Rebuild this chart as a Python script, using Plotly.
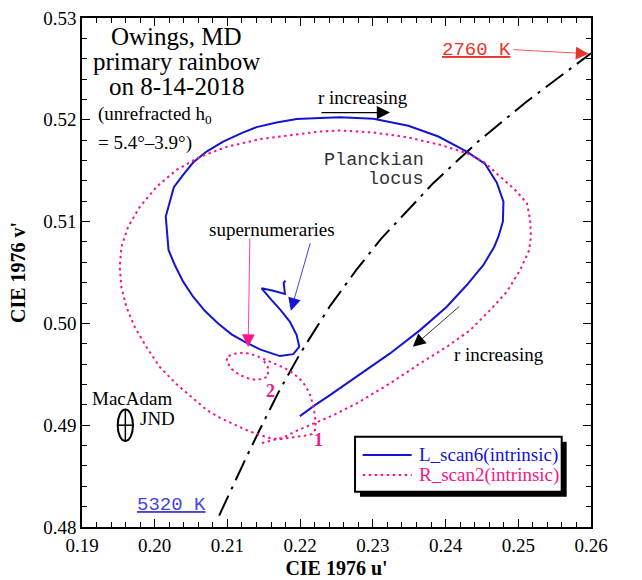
import plotly.graph_objects as go

# ---------------- data ----------------
blue_u = [0.21798, 0.21773, 0.21781, 0.21791, 0.21630, 0.21470, 0.21608, 0.21732, 0.21860, 0.21952,
          0.21988, 0.21905, 0.21722, 0.21447, 0.21240, 0.21057, 0.20872, 0.20689, 0.20528, 0.20391,
          0.20276, 0.20190, 0.20152, 0.20207, 0.20263, 0.20391, 0.20528, 0.20713, 0.20941, 0.21195,
          0.21401, 0.21677, 0.21952, 0.22273, 0.22548, 0.23007, 0.23488, 0.23901, 0.24292, 0.24544,
          0.24705, 0.24796, 0.24788, 0.24727, 0.24668, 0.24521, 0.24292, 0.24017, 0.23649, 0.23236,
          0.22778, 0.22410, 0.22204, 0.21997]
blue_v = [0.50421, 0.50397, 0.50357, 0.50289, 0.50321, 0.50345, 0.50229, 0.50131, 0.50016, 0.49885,
          0.49770, 0.49698, 0.49679, 0.49745, 0.49819, 0.49892, 0.50000, 0.50124, 0.50262, 0.50410,
          0.50574, 0.50721, 0.51049, 0.51181, 0.51338, 0.51459, 0.51580, 0.51688, 0.51786, 0.51869,
          0.51928, 0.51973, 0.52007, 0.52017, 0.52026, 0.52010, 0.51941, 0.51836, 0.51688, 0.51567,
          0.51383, 0.51196, 0.51000, 0.50852, 0.50751, 0.50574, 0.50377, 0.50164, 0.49934, 0.49705,
          0.49475, 0.49295, 0.49197, 0.49089]

pink_u = [0.21502, 0.21561, 0.21553, 0.21405, 0.21281, 0.21171, 0.21061, 0.20992, 0.20992, 0.21102,
          0.21217, 0.21309, 0.21405, 0.21557, 0.21677, 0.21791, 0.21905, 0.21997, 0.22066, 0.22121,
          0.22156, 0.22183, 0.22204, 0.22213, 0.22204, 0.22162, 0.22066, 0.21905, 0.21745, 0.21608,
          0.21423, 0.21240, 0.21057, 0.20872, 0.20717, 0.20528, 0.20300, 0.20070, 0.19887, 0.19726,
          0.19611, 0.19542, 0.19519, 0.19542, 0.19633, 0.19794, 0.20024, 0.20300, 0.20621, 0.20988,
          0.21447, 0.21905, 0.22273, 0.22548, 0.23007, 0.23466, 0.23925, 0.24292, 0.24521, 0.24751,
          0.24957, 0.25119, 0.25164, 0.25174, 0.25150, 0.25026, 0.24843, 0.24613, 0.24338, 0.24017,
          0.23649, 0.23236, 0.22778, 0.22456, 0.22180, 0.21970, 0.21767, 0.21608, 0.21447]
pink_v = [0.49630, 0.49561, 0.49475, 0.49443, 0.49462, 0.49492, 0.49551, 0.49620, 0.49674, 0.49703,
          0.49711, 0.49703, 0.49679, 0.49634, 0.49600, 0.49561, 0.49509, 0.49453, 0.49394, 0.49325,
          0.49256, 0.49177, 0.49098, 0.49020, 0.48951, 0.48912, 0.48897, 0.48882, 0.48865, 0.48869,
          0.48909, 0.48958, 0.49017, 0.49082, 0.49148, 0.49266, 0.49403, 0.49571, 0.49767, 0.49964,
          0.50161, 0.50357, 0.50554, 0.50751, 0.50947, 0.51144, 0.51341, 0.51508, 0.51636, 0.51734,
          0.51810, 0.51852, 0.51885, 0.51895, 0.51875, 0.51830, 0.51754, 0.51672, 0.51590, 0.51442,
          0.51311, 0.51181, 0.51016, 0.50852, 0.50721, 0.50525, 0.50311, 0.50131, 0.49934, 0.49770,
          0.49607, 0.49410, 0.49214, 0.49098, 0.49017, 0.48951, 0.48879, 0.48853, 0.48820]

planck_u = [0.20886, 0.21079, 0.21263, 0.21447, 0.21700, 0.21997, 0.22410, 0.22778, 0.23112, 0.23833,
            0.24452, 0.25100, 0.25715, 0.26000]
planck_v = [0.48112, 0.48410, 0.48690, 0.48960, 0.49320, 0.49700, 0.50170, 0.50530, 0.50830, 0.51380,
            0.51790, 0.52170, 0.52500, 0.52654]

series_names = ["L_scan6(intrinsic)", "R_scan2(intrinsic)"]

x_ticks = [0.19, 0.20, 0.21, 0.22, 0.23, 0.24, 0.25, 0.26]
x_ticklabels = ["0.19", "0.20", "0.21", "0.22", "0.23", "0.24", "0.25", "0.26"]
y_ticks = [0.48, 0.49, 0.50, 0.51, 0.52, 0.53]
y_ticklabels = ["0.48", "0.49", "0.50", "0.51", "0.52", "0.53"]

macadam_center = (0.19596, 0.49000)
macadam_semi = (0.00105, 0.00155)

# ---------------- styling ----------------
SERIF = "Liberation Serif, Times New Roman, serif"
MONO = "Liberation Mono, Courier New, monospace"
BLUE = "#1414d2"
PINK = "#f5168a"
PINK_DASH = "2.5px,3.5px"

fig = go.Figure()

fig.add_trace(go.Scatter(x=planck_u, y=planck_v, mode="lines", showlegend=False,
                         line=dict(color="black", width=2, dash="22px,7px,3px,7px"),
                         hoverinfo="skip"))
fig.add_trace(go.Scatter(x=blue_u, y=blue_v, mode="lines", name=series_names[0], showlegend=False,
                         line=dict(color=BLUE, width=2)))
fig.add_trace(go.Scatter(x=pink_u, y=pink_v, mode="lines", name=series_names[1], showlegend=False,
                         line=dict(color=PINK, width=2, dash=PINK_DASH)))

annotations = []


def note(text, u, v, size=19, color="black", family=SERIF, xanchor="center", ref="data"):
    r = ("x", "y") if ref == "data" else ("paper", "paper")
    annotations.append(dict(text=text, x=u, y=v, xref=r[0], yref=r[1], showarrow=False,
                            xanchor=xanchor, yanchor="middle",
                            font=dict(family=family, size=size, color=color)))


def arrow(head, tail, color="black", width=1.0, size=2.5):
    annotations.append(dict(text="", x=head[0], y=head[1], ax=tail[0], ay=tail[1],
                            xref="x", yref="y", axref="x", ayref="y", showarrow=True,
                            arrowhead=2, arrowsize=size, arrowwidth=width,
                            arrowcolor=color, standoff=0, startstandoff=0))


# title block
note("Owings, MD", 0.20297, 0.52819, size=25)
note("primary rainbow", 0.20297, 0.52573, size=25)
note("on 8-14-2018", 0.20297, 0.52327, size=25)
note("(unrefracted h<sub>0</sub>", 0.19198, 0.52049, size=19, xanchor="left")
note("= 5.4°–3.9°)", 0.19198, 0.51774, size=19, xanchor="left")

# r increasing labels
note("r increasing", 0.22858, 0.52216, size=19)
arrow((0.23236, 0.52071), (0.22273, 0.52071), width=1.2, size=2.2)
note("r increasing", 0.24740, 0.49695, size=19)
arrow((0.23549, 0.49770), (0.24210, 0.50180), width=0.8, size=3.2)

# Planckian locus label
note("Planckian", 0.23732, 0.51597, size=18.5, color="#333333", family=MONO, xanchor="right")
note("locus", 0.23732, 0.51410, size=18.5, color="#333333", family=MONO, xanchor="right")

# supernumeraries
note("supernumeraries", 0.21612, 0.50925, size=19)
arrow((0.21285, 0.49767), (0.21309, 0.50852), color=PINK, width=0.8, size=3.2)
arrow((0.21873, 0.50124), (0.22145, 0.50803), color=BLUE, width=0.8, size=3.2)

# loop numbers
note("<b>2</b>", 0.21595, 0.49337, size=18, color=PINK)
note("<b>1</b>", 0.22249, 0.48853, size=18, color=PINK)

# MacAdam
note("MacAdam", 0.19691, 0.49263, size=19)
note("JND", 0.20035, 0.49066, size=19)

# temperature labels
note("<u>5320 K</u>", 0.20235, 0.48213, size=19, color="#4444dd", family=MONO)
note("<u>2760 K</u>", 0.24430, 0.52688, size=19, color="#e8342c", family=MONO)
arrow((0.25967, 0.52649), (0.24912, 0.52690), color="#e8342c", width=0.8, size=3.2)

# legend (box with drop shadow, samples and labels) in paper coordinates
LEG_X0, LEG_X1, LEG_Y0, LEG_Y1 = 0.5364, 0.9424, 0.0694, 0.1774
SHADOW = (0.0098, 0.0098)
SAMPLE_X = (0.5515, 0.6477)
ROW_Y = (0.1415, 0.1022)
TEXT_X = 0.6576
note(series_names[0], TEXT_X, ROW_Y[0], size=19, color=BLUE, xanchor="left", ref="paper")
note(series_names[1], TEXT_X, ROW_Y[1], size=19, color=PINK, xanchor="left", ref="paper")

cu, cv = macadam_center
au, av = macadam_semi
shapes = [
    dict(type="circle", xref="x", yref="y", x0=cu - au, x1=cu + au, y0=cv - av, y1=cv + av,
         line=dict(color="black", width=2)),
    dict(type="line", xref="x", yref="y", x0=cu, x1=cu, y0=cv - av, y1=cv + av,
         line=dict(color="black", width=1.5)),
    dict(type="line", xref="x", yref="y", x0=cu - au, x1=cu + au, y0=cv, y1=cv,
         line=dict(color="black", width=1.5)),
    dict(type="rect", xref="paper", yref="paper", x0=LEG_X0 + SHADOW[0], x1=LEG_X1 + SHADOW[0],
         y0=LEG_Y0 - SHADOW[1], y1=LEG_Y1 - SHADOW[1], fillcolor="black", line=dict(width=0),
         layer="above"),
    dict(type="rect", xref="paper", yref="paper", x0=LEG_X0, x1=LEG_X1, y0=LEG_Y0, y1=LEG_Y1,
         fillcolor="white", line=dict(color="black", width=2), layer="above"),
    dict(type="line", xref="paper", yref="paper", x0=SAMPLE_X[0], x1=SAMPLE_X[1],
         y0=ROW_Y[0], y1=ROW_Y[0], line=dict(color=BLUE, width=2), layer="above"),
    dict(type="line", xref="paper", yref="paper", x0=SAMPLE_X[0], x1=SAMPLE_X[1],
         y0=ROW_Y[1], y1=ROW_Y[1], line=dict(color=PINK, width=2, dash=PINK_DASH), layer="above"),
]

axis_font = dict(family=SERIF, size=19, color="black")
common = dict(showline=True, linecolor="black", linewidth=1.5, showgrid=False, zeroline=False,
              ticks="inside", ticklen=8, tickwidth=1, tickcolor="black", tickfont=axis_font,
              automargin=False)
title_font = dict(family=SERIF, size=20, color="black")

fig.update_layout(
    width=642, height=580,
    margin=dict(l=82, r=51, t=18, b=53, autoexpand=False),
    paper_bgcolor="white", plot_bgcolor="white",
    xaxis=dict(range=[0.19, 0.26], tickmode="array", tickvals=x_ticks, ticktext=x_ticklabels,
               mirror="allticks",
               minor=dict(tickmode="linear", tick0=0.19, dtick=0.002, ticks="inside", ticklen=5,
                          tickcolor="black", tickwidth=1, showgrid=False),
               title=dict(text="<b>CIE 1976 u'</b>", font=title_font, standoff=6),
               **common),
    yaxis=dict(range=[0.48, 0.53], tickmode="array", tickvals=y_ticks, ticktext=y_ticklabels,
               mirror="allticks",
               minor=dict(tickmode="linear", tick0=0.48, dtick=0.002, ticks="inside", ticklen=5,
                          tickcolor="black", tickwidth=1, showgrid=False),
               title=dict(text="<b>CIE 1976 v'</b>", font=title_font, standoff=12),
               **common),
    yaxis2=dict(range=[0.48, 0.53], overlaying="y", side="right", tickmode="array",
                tickvals=y_ticks, ticktext=y_ticklabels, showline=False, showgrid=False,
                zeroline=False, ticks="", tickfont=axis_font, automargin=False),
    annotations=annotations,
    shapes=shapes,
    showlegend=False,
)

fig.write_html("out.html", config={"displayModeBar": False},
               post_script="document.body.style.margin='0px';")
